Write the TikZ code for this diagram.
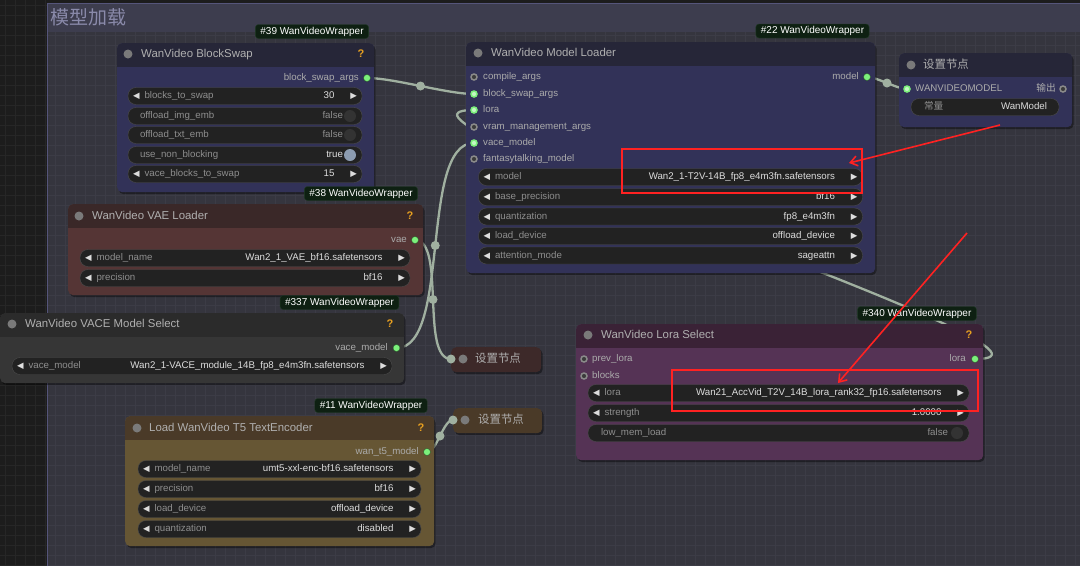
\documentclass[tikz,border=0pt]{standalone}
\usepackage{fontspec}
\setmainfont{Liberation Sans}
\newfontfamily\cjk{Noto Sans CJK SC}
\newfontfamily\symfont{DejaVu Sans}
\usetikzlibrary{arrows.meta,shadows}

\definecolor{canvasbg}{HTML}{1C1C1C}
\definecolor{canvasgrid}{HTML}{262626}
\definecolor{groupbg}{HTML}{35353E}
\definecolor{groupgrid}{HTML}{3C3C46}
\definecolor{grouphead}{HTML}{3D3D4E}
\definecolor{groupedge}{HTML}{55557A}
\definecolor{grouptxt}{HTML}{8A8AAA}
\definecolor{blueT}{HTML}{262638}
\definecolor{blueB}{HTML}{323258}
\definecolor{redT}{HTML}{3A2828}
\definecolor{redB}{HTML}{553535}
\definecolor{grayT}{HTML}{2B2B2B}
\definecolor{grayB}{HTML}{363636}
\definecolor{brownT}{HTML}{4A3A28}
\definecolor{brownB}{HTML}{665634}
\definecolor{purpleT}{HTML}{3A2236}
\definecolor{purpleB}{HTML}{553355}
\definecolor{widgetbg}{HTML}{222222}
\definecolor{widgetedge}{HTML}{4C4C4C}
\definecolor{titletxt}{HTML}{B0B0B0}
\definecolor{slottxt}{HTML}{ABABAB}
\definecolor{wlab}{HTML}{8E8E8E}
\definecolor{valtxt}{HTML}{DDDDDD}
\definecolor{arrowtxt}{HTML}{DDDDDD}
\definecolor{hintorange}{HTML}{E8A020}
\definecolor{badgebg}{HTML}{0E2012}
\definecolor{badgeedge}{HTML}{1F3A24}
\definecolor{sockgreen}{HTML}{7CF07C}
\definecolor{sockedge}{HTML}{2A5A2A}
\definecolor{sockgray}{HTML}{8A8A8A}
\definecolor{sockhole}{HTML}{3A3A3A}
\definecolor{tdotgray}{HTML}{7A7A7A}
\definecolor{knobdark}{HTML}{333333}
\definecolor{knoblight}{HTML}{8C9CB0}
\definecolor{wirecol}{HTML}{A0B0A0}
\definecolor{markred}{HTML}{FF2222}

\newcommand{\tril}{{\symfont\fontsize{8.5}{10}\selectfont\textcolor{arrowtxt}{◀}}}
\newcommand{\trir}{{\symfont\fontsize{8.5}{10}\selectfont\textcolor{arrowtxt}{▶}}}

\pgfdeclarelayer{canvas}
\pgfdeclarelayer{wires}
\pgfsetlayers{canvas,wires,main}

\begin{document}
\begin{tikzpicture}[x=1pt, y=-1pt,
    every node/.style={inner sep=0pt},
    panel/.style 2 args={rounded corners=5pt, fill=#2, anchor=north west,
        drop shadow={color=black, opacity=0.4, shadow xshift=1.5pt, shadow yshift=-2pt},
        path picture={\fill[#1, sharp corners] (path picture bounding box.north west) rectangle ([yshift=-24pt]path picture bounding box.north east);}},
    folded/.style={rounded corners=5pt, fill=#1, anchor=north west,
        drop shadow={color=black, opacity=0.4, shadow xshift=1.5pt, shadow yshift=-2pt}},
    ttl/.style={anchor=west, text=titletxt, text height=8.5pt, text depth=2.5pt, font=\fontsize{11.4}{13}\selectfont},
    hint/.style={text=hintorange, font=\bfseries\fontsize{11}{13}\selectfont},
    tdot/.style={circle, fill=tdotgray, minimum size=9pt},
    badge/.style={fill=badgebg, draw=badgeedge, rounded corners=3pt, text=white, inner xsep=5pt, minimum height=14pt, text height=7.5pt, text depth=2pt, font=\fontsize{10}{12}\selectfont},
    slot/.style={text=slottxt, text height=7pt, text depth=2pt, font=\fontsize{9.7}{11}\selectfont},
    sockon/.style={circle, fill=sockgreen, draw=sockedge, minimum size=7pt},
    sockin/.style={circle, fill=sockgreen!45!white, draw=sockgreen, line width=1.5pt, minimum size=6pt},
    sockoff/.style={circle, fill=sockhole, draw=sockgray, line width=1.5pt, minimum size=6pt},
    widget/.style={fill=widgetbg, draw=widgetedge, rounded corners=8pt, minimum height=17pt, inner xsep=5pt, text height=7pt, text depth=2pt, text=valtxt, font=\fontsize{9.7}{11}\selectfont},
    knoboff/.style={circle, fill=knobdark, minimum size=12pt},
    knobon/.style={circle, fill=knoblight, minimum size=12pt},
    wire/.style={draw=wirecol, line width=2.3pt},
    wdot/.style={circle, fill=wirecol, minimum size=9pt},
    redmark/.style={draw=markred, line width=1.6pt}]

    \useasboundingbox (0,0) rectangle (1080,566);

    % canvas and group
    \begin{pgfonlayer}{canvas}
        \fill[canvasbg] (0,0) rectangle (1080,566);
        \foreach \gx in {5,15,...,45} \draw[canvasgrid, line width=0.6pt] (\gx,0) -- (\gx,566);
        \foreach \gy in {5,15,...,565} \draw[canvasgrid, line width=0.6pt] (0,\gy) -- (47,\gy);
        \fill[groupbg] (47,3) rectangle (1080,566);
        \foreach \gx in {55,65,...,1075} \draw[groupgrid, line width=0.6pt] (\gx,32) -- (\gx,566);
        \foreach \gy in {35,45,...,565} \draw[groupgrid, line width=0.6pt] (47,\gy) -- (1080,\gy);
        \fill[grouphead] (47,3) rectangle (1080,32);
        \draw[groupedge, line width=1pt] (47.5,566) -- (47.5,3.5) -- (1080,3.5);
    \end{pgfonlayer}
    \node[anchor=west, text=grouptxt, font=\cjk\fontsize{19}{21}\selectfont] (grouptitle) at (50,17) {模型加载};

    % WanVideo BlockSwap
    \node[panel={blueT}{blueB}, minimum width=257pt, minimum height=149pt] (swap) at (117,43) {};
    \node[tdot] (swapdot) at (128,54) {};
    \node[ttl] (swaptitle) at (141,54) {WanVideo BlockSwap};
    \node[hint] (swaphint) at (361,54) {?};
    \node[slot, anchor=east] (swapoutlbl) at (359,78) {block\_swap\_args};
    \node[sockon] (swapout) at (367,78) {};
    \node[widget] (swapw1) at (245,96) {\makebox[224pt]{\tril\hspace{5pt}\textcolor{wlab}{blocks\_to\_swap}\hfill 30\hspace{16pt}\trir}};
    \node[widget] (swapw2) at (245,116) {\makebox[224pt]{\hspace{7pt}\textcolor{wlab}{offload\_img\_emb}\hfill\textcolor{wlab}{false}\hspace{14pt}}};
    \node[knoboff] (swapk2) at (350,116) {};
    \node[widget] (swapw3) at (245,135) {\makebox[224pt]{\hspace{7pt}\textcolor{wlab}{offload\_txt\_emb}\hfill\textcolor{wlab}{false}\hspace{14pt}}};
    \node[knoboff] (swapk3) at (350,135) {};
    \node[widget] (swapw4) at (245,155) {\makebox[224pt]{\hspace{7pt}\textcolor{wlab}{use\_non\_blocking}\hfill true\hspace{14pt}}};
    \node[knobon] (swapk4) at (350,155) {};
    \node[widget] (swapw5) at (245,174) {\makebox[224pt]{\tril\hspace{5pt}\textcolor{wlab}{vace\_blocks\_to\_swap}\hfill 15\hspace{16pt}\trir}};

    % WanVideo Model Loader
    \node[panel={blueT}{blueB}, minimum width=409pt, minimum height=231pt] (loader) at (466,42) {};
    \node[tdot] (loaderdot) at (478,53) {};
    \node[ttl] (loadertitle) at (491,53) {WanVideo Model Loader};
    \node[sockoff] (ldcompile) at (474,77) {};
    \node[slot, anchor=west] at (483,77) {compile\_args};
    \node[sockin] (ldswap) at (474,94) {};
    \node[slot, anchor=west] at (483,94) {block\_swap\_args};
    \node[sockin] (ldlora) at (474,110) {};
    \node[slot, anchor=west] at (483,110) {lora};
    \node[sockoff] (ldvram) at (474,127) {};
    \node[slot, anchor=west] at (483,127) {vram\_management\_args};
    \node[sockin] (ldvace) at (474,143) {};
    \node[slot, anchor=west] at (483,143) {vace\_model};
    \node[sockoff] (ldfantasy) at (474,159) {};
    \node[slot, anchor=west] at (483,159) {fantasytalking\_model};
    \node[slot, anchor=east] (ldoutlbl) at (859,77) {model};
    \node[sockon] (ldout) at (867,77) {};
    \node[widget] (ldw1) at (670.5,177) {\makebox[374pt]{\tril\hspace{5pt}\textcolor{wlab}{model}\hfill Wan2\_1-T2V-14B\_fp8\_e4m3fn.safetensors\hspace{16pt}\trir}};
    \node[widget] (ldw2) at (670.5,197) {\makebox[374pt]{\tril\hspace{5pt}\textcolor{wlab}{base\_precision}\hfill bf16\hspace{16pt}\trir}};
    \node[widget] (ldw3) at (670.5,216.5) {\makebox[374pt]{\tril\hspace{5pt}\textcolor{wlab}{quantization}\hfill fp8\_e4m3fn\hspace{16pt}\trir}};
    \node[widget] (ldw4) at (670.5,236) {\makebox[374pt]{\tril\hspace{5pt}\textcolor{wlab}{load\_device}\hfill offload\_device\hspace{16pt}\trir}};
    \node[widget] (ldw5) at (670.5,255.5) {\makebox[374pt]{\tril\hspace{5pt}\textcolor{wlab}{attention\_mode}\hfill sageattn\hspace{16pt}\trir}};

    % set node, model
    \node[panel={blueT}{blueB}, minimum width=173pt, minimum height=74pt] (setmodel) at (899,53) {};
    \node[tdot] (setmodeldot) at (911,65) {};
    \node[ttl] (setmodeltitle) at (923,65) {\cjk 设置节点};
    \node[sockin] (setin) at (907,89) {};
    \node[slot, anchor=west] at (915,89) {WANVIDEOMODEL};
    \node[slot, anchor=east] at (1056,89) {\cjk 输出};
    \node[sockoff] (setout) at (1063,89) {};
    \node[widget] (setw1) at (985,107) {\makebox[138pt]{\hspace{8pt}\textcolor{wlab}{\cjk 常量}\hfill WanModel\hspace{7pt}}};

    % WanVideo VAE Loader
    \node[panel={redT}{redB}, minimum width=355pt, minimum height=91pt] (vae) at (68,204) {};
    \node[tdot] (vaedot) at (79,216) {};
    \node[ttl] (vaetitle) at (92,216) {WanVideo VAE Loader};
    \node[hint] (vaehint) at (410,216) {?};
    \node[slot, anchor=east] (vaeoutlbl) at (407,240) {vae};
    \node[sockon] (vaeout) at (415,240) {};
    \node[widget] (vaew1) at (245,258) {\makebox[320pt]{\tril\hspace{5pt}\textcolor{wlab}{model\_name}\hfill Wan2\_1\_VAE\_bf16.safetensors\hspace{16pt}\trir}};
    \node[widget] (vaew2) at (245,278) {\makebox[320pt]{\tril\hspace{5pt}\textcolor{wlab}{precision}\hfill bf16\hspace{16pt}\trir}};

    % WanVideo VACE Model Select
    \node[panel={grayT}{grayB}, minimum width=404pt, minimum height=70pt] (vace) at (0,313) {};
    \node[tdot] (vacedot) at (12,324) {};
    \node[ttl] (vacetitle) at (25,324) {WanVideo VACE Model Select};
    \node[hint] (vacehint) at (390,324) {?};
    \node[slot, anchor=east] (vaceoutlbl) at (388,348) {vace\_model};
    \node[sockon] (vaceout) at (396.5,348) {};
    \node[widget] (vacew1) at (202,366) {\makebox[370pt]{\tril\hspace{5pt}\textcolor{wlab}{vace\_model}\hfill Wan2\_1-VACE\_module\_14B\_fp8\_e4m3fn.safetensors\hspace{16pt}\trir}};

    % set node, vae (folded)
    \node[folded=redT!90!redB, minimum width=90pt, minimum height=25pt] (setvae) at (451,347) {};
    \node[wdot] (midin) at (451,359) {};
    \node[tdot] (setvaedot) at (463,359) {};
    \node[ttl] (setvaetitle) at (475,359) {\cjk 设置节点};

    % Load WanVideo T5 TextEncoder
    \node[panel={brownT}{brownB}, minimum width=309pt, minimum height=130pt] (tfive) at (125,416) {};
    \node[tdot] (tfivedot) at (137,428) {};
    \node[ttl] (tfivetitle) at (149,428) {Load WanVideo T5 TextEncoder};
    \node[hint] (tfivehint) at (421,428) {?};
    \node[slot, anchor=east] (tfiveoutlbl) at (419,452) {wan\_t5\_model};
    \node[sockon] (tfiveout) at (427,452) {};
    \node[widget] (tfivew1) at (279.5,469) {\makebox[273pt]{\tril\hspace{5pt}\textcolor{wlab}{model\_name}\hfill umt5-xxl-enc-bf16.safetensors\hspace{16pt}\trir}};
    \node[widget] (tfivew2) at (279.5,489) {\makebox[273pt]{\tril\hspace{5pt}\textcolor{wlab}{precision}\hfill bf16\hspace{16pt}\trir}};
    \node[widget] (tfivew3) at (279.5,509) {\makebox[273pt]{\tril\hspace{5pt}\textcolor{wlab}{load\_device}\hfill offload\_device\hspace{16pt}\trir}};
    \node[widget] (tfivew4) at (279.5,529) {\makebox[273pt]{\tril\hspace{5pt}\textcolor{wlab}{quantization}\hfill disabled\hspace{16pt}\trir}};

    % set node, t5 (folded)
    \node[folded=brownT, minimum width=89pt, minimum height=25pt] (sett5) at (453,408) {};
    \node[wdot] (smallin) at (453,420) {};
    \node[tdot] (sett5dot) at (465,420) {};
    \node[ttl] (sett5title) at (478,420) {\cjk 设置节点};

    % WanVideo Lora Select
    \node[panel={purpleT}{purpleB}, minimum width=407pt, minimum height=136pt] (lorasel) at (576,324) {};
    \node[tdot] (loradot) at (588,335) {};
    \node[ttl] (loratitle) at (601,335) {WanVideo Lora Select};
    \node[hint] (lorahint) at (969,335) {?};
    \node[sockoff] (loraprev) at (584,359) {};
    \node[slot, anchor=west] at (592,359) {prev\_lora};
    \node[sockoff] (lorablocks) at (584,376) {};
    \node[slot, anchor=west] at (592,376) {blocks};
    \node[slot, anchor=east] (loraoutlbl) at (966,359) {lora};
    \node[sockon] (loraout) at (975,359) {};
    \node[widget] (loraw1) at (778.5,393) {\makebox[371pt]{\tril\hspace{5pt}\textcolor{wlab}{lora}\hfill Wan21\_AccVid\_T2V\_14B\_lora\_rank32\_fp16.safetensors\hspace{16pt}\trir}};
    \node[widget] (loraw2) at (778.5,413) {\makebox[371pt]{\tril\hspace{5pt}\textcolor{wlab}{strength}\hfill 1.0000\hspace{16pt}\trir}};
    \node[widget] (loraw3) at (778.5,433) {\makebox[371pt]{\hspace{8pt}\textcolor{wlab}{low\_mem\_load}\hfill\textcolor{wlab}{false}\hspace{16pt}}};
    \node[knoboff] (lorak3) at (957,433) {};

    % badges
    \node[badge] (swapbadge) at (312,31.5) {\#39 WanVideoWrapper};
    \node[badge] (loaderbadge) at (812.5,31) {\#22 WanVideoWrapper};
    \node[badge] (vaebadge) at (361,193.5) {\#38 WanVideoWrapper};
    \node[badge] (vacebadge) at (339.5,302.5) {\#337 WanVideoWrapper};
    \node[badge] (tfivebadge) at (371,405.5) {\#11 WanVideoWrapper};
    \node[badge] (lorabadge) at (917,313.5) {\#340 WanVideoWrapper};

    % links
    \begin{pgfonlayer}{wires}
        \draw[wire] (swapout.center) .. controls +(27,0) and +(-27,0) .. (ldswap.center) node[pos=0.5, wdot] {};
        \draw[wire] (loraout.center) .. controls +(140,0) and +(-140,0) .. (ldlora.center);
        \draw[wire] (ldout.center) .. controls +(10,0) and +(-10,0) .. (setin.center) node[pos=0.5, wdot] {};
        \draw[wire] (vaceout.center) .. controls +(55,0) and +(-55,0) .. (ldvace.center) node[pos=0.5, wdot] {};
        \draw[wire] (vaeout.center) .. controls +(31,0) and +(-31,0) .. (midin.center) node[pos=0.5, wdot] {};
        \draw[wire] (tfiveout.center) .. controls +(10,0) and +(-10,0) .. (smallin.center) node[pos=0.5, wdot] {};
    \end{pgfonlayer}

    % red marks
    \node[redmark, anchor=north west, minimum width=240pt, minimum height=44pt] (redbox1) at (621,148) {};
    \node[redmark, anchor=north west, minimum width=306pt, minimum height=41pt] (redbox2) at (671,369) {};
    \coordinate (redfrom1) at (1000,125);
    \coordinate (redtip1) at (849,163);
    \coordinate (redfrom2) at (967,233);
    \coordinate (redtip2) at (838,383);
    \draw[redmark, -{Straight Barb[length=7pt,width=10pt]}] (redfrom1) -- (redtip1);
    \draw[redmark, -{Straight Barb[length=7pt,width=10pt]}] (redfrom2) -- (redtip2);
\end{tikzpicture}
\end{document}
